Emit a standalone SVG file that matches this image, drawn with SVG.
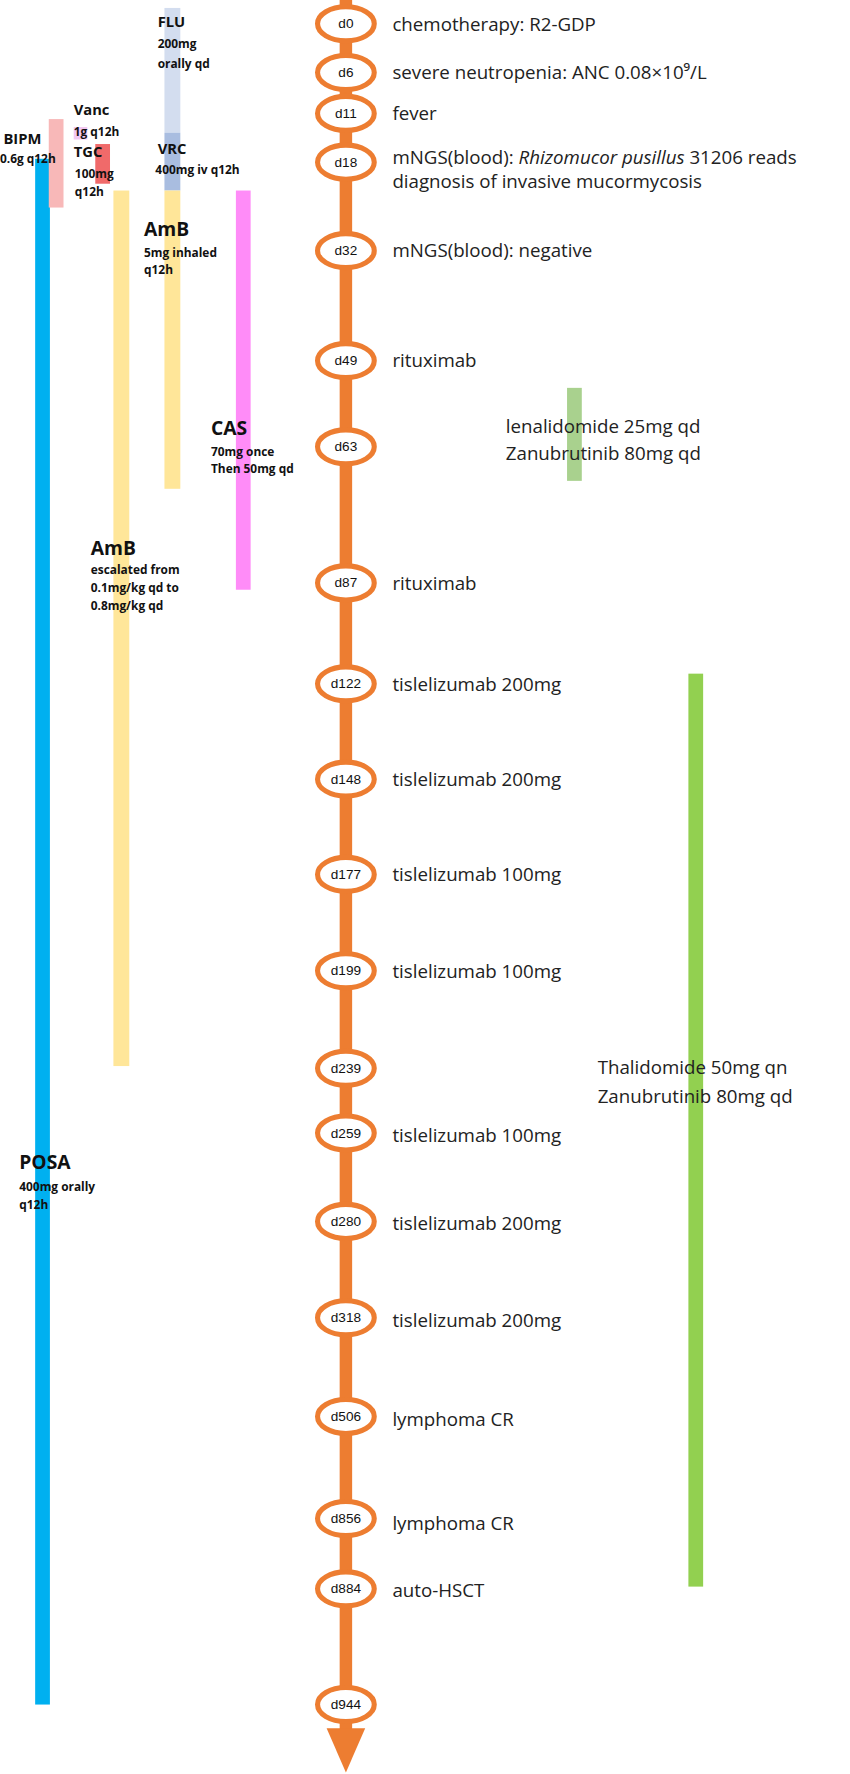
<svg xmlns="http://www.w3.org/2000/svg" width="850" height="1774" viewBox="0 0 850 1774">
<style>
.n{fill:#fff;stroke:#ed7d31;stroke-width:4.5}
.nt{font-family:"Liberation Sans",Arial,sans-serif;font-size:12px;fill:#111;text-anchor:middle}
.ev{font-family:"Open Sans","DejaVu Sans",sans-serif;font-size:16.5px;fill:#222}
.b{font-family:"Open Sans","DejaVu Sans",sans-serif;font-weight:bold;fill:#111}
.h{font-size:13px}.h2{font-size:17px}.s{font-size:10.5px}
</style>
<rect width="850" height="1774" fill="#fff"/>
<g transform="scale(1.1341)">
<g id="bars">
<rect x="31" y="140" width="13" height="1363" fill="#00b0f0"/>
<rect x="43" y="105" width="13" height="78" fill="#f8b8b8"/>
<rect x="65" y="112" width="12" height="11" fill="#f2c8f2"/>
<rect x="84" y="127" width="13" height="35" fill="#f06a6a"/>
<rect x="100" y="168" width="14" height="772" fill="#ffe699"/>
<rect x="145" y="7" width="14" height="110" fill="#d3ddef"/>
<rect x="145" y="117" width="14" height="51" fill="#a9bde0"/>
<rect x="145" y="168" width="14" height="263" fill="#ffe699"/>
<rect x="208" y="168" width="13" height="352" fill="#ff8cf8"/>
<rect x="500" y="342" width="13" height="82" fill="#a9d18e"/>
<rect x="607" y="594" width="13" height="805" fill="#92d050"/>
</g>
<g id="labels">
<text class="b h" x="3" y="127">BIPM</text><text class="b s" x="0" y="144">0.6g q12h</text>
<text class="b h" x="65" y="101">Vanc</text><text class="b s" x="65" y="120">1g q12h</text>
<text class="b h" x="65" y="138">TGC</text><text class="b s" x="66" y="157">100mg</text><text class="b s" x="66" y="173">q12h</text>
<text class="b h" x="139" y="24">FLU</text><text class="b s" x="139" y="42">200mg</text><text class="b s" x="139" y="60">orally qd</text>
<text class="b h" x="139" y="136">VRC</text><text class="b s" x="137" y="153">400mg iv q12h</text>
<text class="b h2" x="127" y="208">AmB</text><text class="b s" x="127" y="227">5mg inhaled</text><text class="b s" x="127" y="242">q12h</text>
<text class="b h2" x="186" y="384">CAS</text><text class="b s" x="186" y="402">70mg once</text><text class="b s" x="186" y="417">Then 50mg qd</text>
<text class="b h2" x="80" y="489">AmB</text><text class="b s" x="80" y="506">escalated from</text><text class="b s" x="80" y="522">0.1mg/kg qd to</text><text class="b s" x="80" y="538">0.8mg/kg qd</text>
<text class="b h2" x="17" y="1031">POSA</text><text class="b s" x="17" y="1050">400mg orally</text><text class="b s" x="17" y="1066">q12h</text>
<text class="ev" x="446" y="382">lenalidomide 25mg qd</text><text class="ev" x="446" y="406">Zanubrutinib 80mg qd</text>
<text class="ev" x="527" y="947">Thalidomide 50mg qn</text><text class="ev" x="527" y="973">Zanubrutinib 80mg qd</text>
</g>
<g id="connectors">
<rect x="299.5" y="0" width="11" height="1530" fill="#ed7d31"/>
<polygon points="288,1524 322,1524 305,1563" fill="#ed7d31"/>
</g>
<g id="nodes">
<g id="d0"><ellipse class="n" cx="305" cy="21" rx="25" ry="15"/><text class="nt" x="305" y="25">d0</text><text class="ev" x="346" y="27">chemotherapy: R2-GDP</text></g>
<g id="d6"><ellipse class="n" cx="305" cy="64" rx="25" ry="15"/><text class="nt" x="305" y="68">d6</text><text class="ev" x="346" y="70">severe neutropenia: ANC 0.08×10⁹/L</text></g>
<g id="d11"><ellipse class="n" cx="305" cy="100" rx="25" ry="15"/><text class="nt" x="305" y="104">d11</text><text class="ev" x="346" y="106">fever</text></g>
<g id="d18"><ellipse class="n" cx="305" cy="143" rx="25" ry="15"/><text class="nt" x="305" y="147">d18</text><text class="ev" x="346" y="145">mNGS(blood): <tspan font-style="italic">Rhizomucor pusillus</tspan> 31206 reads</text><text class="ev" x="346" y="166">diagnosis of  invasive mucormycosis</text></g>
<g id="d32"><ellipse class="n" cx="305" cy="221" rx="25" ry="15"/><text class="nt" x="305" y="225">d32</text><text class="ev" x="346" y="227">mNGS(blood): negative</text></g>
<g id="d49"><ellipse class="n" cx="305" cy="318" rx="25" ry="15"/><text class="nt" x="305" y="322">d49</text><text class="ev" x="346" y="324">rituximab</text></g>
<g id="d63"><ellipse class="n" cx="305" cy="394" rx="25" ry="15"/><text class="nt" x="305" y="398">d63</text></g>
<g id="d87"><ellipse class="n" cx="305" cy="514" rx="25" ry="15"/><text class="nt" x="305" y="518">d87</text><text class="ev" x="346" y="520">rituximab</text></g>
<g id="d122"><ellipse class="n" cx="305" cy="603" rx="25" ry="15"/><text class="nt" x="305" y="607">d122</text><text class="ev" x="346" y="609">tislelizumab 200mg</text></g>
<g id="d148"><ellipse class="n" cx="305" cy="687" rx="25" ry="15"/><text class="nt" x="305" y="691">d148</text><text class="ev" x="346" y="693">tislelizumab 200mg</text></g>
<g id="d177"><ellipse class="n" cx="305" cy="771" rx="25" ry="15"/><text class="nt" x="305" y="775">d177</text><text class="ev" x="346" y="777">tislelizumab 100mg</text></g>
<g id="d199"><ellipse class="n" cx="305" cy="856" rx="25" ry="15"/><text class="nt" x="305" y="860">d199</text><text class="ev" x="346" y="862">tislelizumab 100mg</text></g>
<g id="d239"><ellipse class="n" cx="305" cy="942" rx="25" ry="15"/><text class="nt" x="305" y="946">d239</text></g>
<g id="d259"><ellipse class="n" cx="305" cy="999" rx="25" ry="15"/><text class="nt" x="305" y="1003">d259</text><text class="ev" x="346" y="1007">tislelizumab 100mg</text></g>
<g id="d280"><ellipse class="n" cx="305" cy="1077" rx="25" ry="15"/><text class="nt" x="305" y="1081">d280</text><text class="ev" x="346" y="1085">tislelizumab 200mg</text></g>
<g id="d318"><ellipse class="n" cx="305" cy="1162" rx="25" ry="15"/><text class="nt" x="305" y="1166">d318</text><text class="ev" x="346" y="1170">tislelizumab 200mg</text></g>
<g id="d506"><ellipse class="n" cx="305" cy="1249" rx="25" ry="15"/><text class="nt" x="305" y="1253">d506</text><text class="ev" x="346" y="1257">lymphoma CR</text></g>
<g id="d856"><ellipse class="n" cx="305" cy="1339" rx="25" ry="15"/><text class="nt" x="305" y="1343">d856</text><text class="ev" x="346" y="1349">lymphoma CR</text></g>
<g id="d884"><ellipse class="n" cx="305" cy="1401" rx="25" ry="15"/><text class="nt" x="305" y="1405">d884</text><text class="ev" x="346" y="1408">auto-HSCT</text></g>
<g id="d944"><ellipse class="n" cx="305" cy="1503" rx="25" ry="15"/><text class="nt" x="305" y="1507">d944</text></g>
</g>
</g>
</svg>
